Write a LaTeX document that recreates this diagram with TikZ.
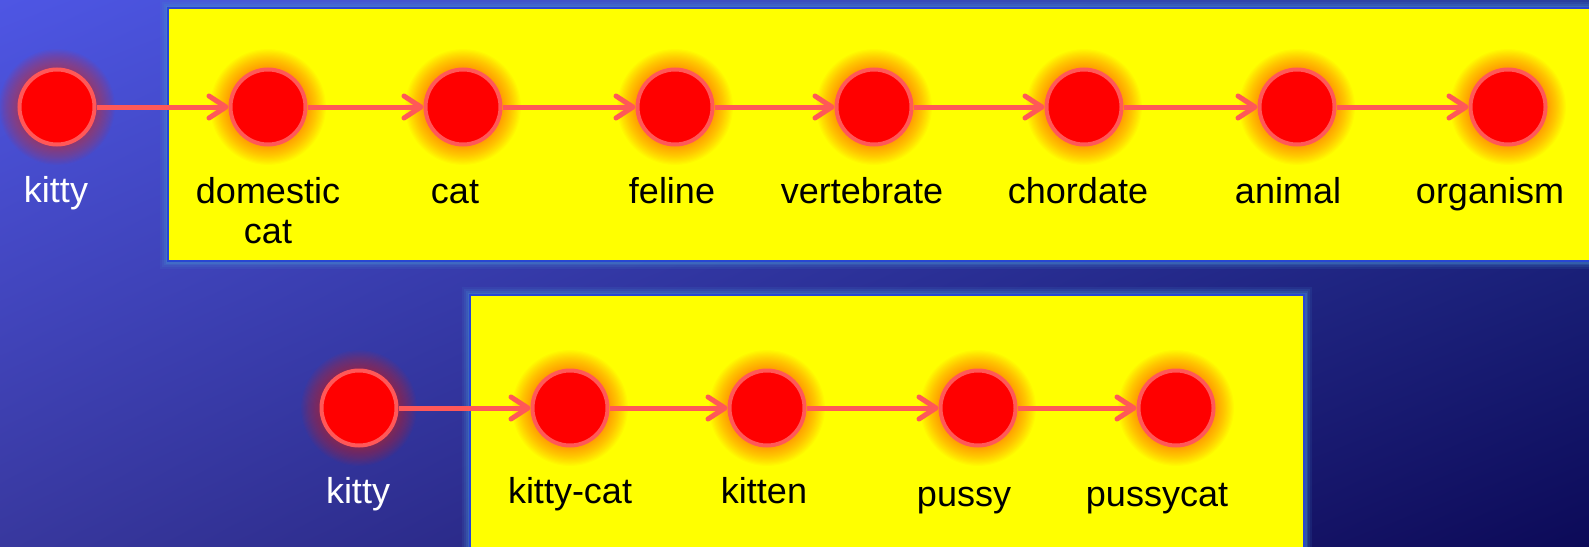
\documentclass[tikz,border=0pt]{standalone}
\usepackage{fontspec}
\setmainfont{Liberation Sans}
\usetikzlibrary{arrows.meta,shadings}
\definecolor{dotedge}{RGB}{255,88,88}
\definecolor{dotfill}{RGB}{255,0,0}
\definecolor{glowred}{RGB}{255,40,0}
\definecolor{boxfill}{RGB}{255,255,0}
\definecolor{boxline}{RGB}{40,70,210}
\definecolor{boxglow}{RGB}{70,140,210}
\definecolor{bgUL}{RGB}{78,86,228}
\definecolor{bgUR}{RGB}{38,52,150}
\definecolor{bgLL}{RGB}{56,56,158}
\definecolor{bgLR}{RGB}{12,10,88}
\tikzset{
  dot/.style={circle, fill=dotfill, draw=dotedge, line width=4pt, minimum size=75pt, inner sep=0pt},
  lab/.style={font=\fontsize{36}{40}\selectfont, inner sep=0pt, anchor=base, align=center},
  wlab/.style={lab, text=white},
  blab/.style={lab, text=black},
  link/.style={draw=dotedge, line width=5pt, -{Straight Barb[length=17pt,width=22pt,round]}},
  ybox/.style={fill=boxfill, draw=boxline, line width=2pt},
}
\begin{document}
\begin{tikzpicture}[x=1pt,y=-1pt]
\useasboundingbox (0,0) rectangle (1589,546);
\clip (0,0) rectangle (1589,546);
% background
\shade[upper left=bgUL, upper right=bgUR, lower left=bgLL, lower right=bgLR] (0,0) rectangle (1589,546);
% boxes with glow
\foreach \w/\o in {16/0.12, 12/0.15, 8/0.2, 5/0.3}{
  \draw[boxglow, line width=\w pt, opacity=\o] (168,8) rectangle (1620,261);
  \draw[boxglow, line width=\w pt, opacity=\o] (470,295) rectangle (1304,580);
}
\path[ybox] (168,8) rectangle (1620,261);
\path[ybox] (470,295) rectangle (1304,580);
% glows
\foreach \x/\y in {57/107, 268/107, 463/107, 675/107, 874/107, 1084/107, 1297/107, 1508/107,
                   359/408, 570/408, 767/408, 978/408, 1176/408}{
  \foreach \k in {1,...,16}{
    \fill[glowred, opacity=0.03] (\x,\y) circle[radius={39.5pt+1.15pt*\k}];
  }
}
% nodes
\node[dot] (k1)  at (57,107) {};
\node[dot] (dc)  at (268,107) {};
\node[dot] (cat) at (463,107) {};
\node[dot] (fel) at (675,107) {};
\node[dot] (ver) at (874,107) {};
\node[dot] (cho) at (1084,107) {};
\node[dot] (ani) at (1297,107) {};
\node[dot] (org) at (1508,107) {};
\node[dot] (k2)  at (359,408) {};
\node[dot] (kc)  at (570,408) {};
\node[dot] (kit) at (767,408) {};
\node[dot] (pus) at (978,408) {};
\node[dot] (pc)  at (1176,408) {};
% connectors
\draw[link] (k1) -- (dc);
\draw[link] (dc) -- (cat);
\draw[link] (cat) -- (fel);
\draw[link] (fel) -- (ver);
\draw[link] (ver) -- (cho);
\draw[link] (cho) -- (ani);
\draw[link] (ani) -- (org);
\draw[link] (k2) -- (kc);
\draw[link] (kc) -- (kit);
\draw[link] (kit) -- (pus);
\draw[link] (pus) -- (pc);
% labels
\node[wlab] (lk1) at (56,202) {kitty};
\node[blab] (ldc) at (268,243) {domestic\\cat};
\node[blab] (lcat) at (455,203) {cat};
\node[blab] (lfel) at (672,203) {feline};
\node[blab] (lver) at (862,203) {vertebrate};
\node[blab] (lcho) at (1078,203) {chordate};
\node[blab] (lani) at (1288,203) {animal};
\node[blab] (lorg) at (1490,203) {organism};
\node[wlab] (lk2) at (358,503) {kitty};
\node[blab] (lkc) at (570,503) {kitty-cat};
\node[blab] (lkit) at (764,503) {kitten};
\node[blab] (lpus) at (964,506) {pussy};
\node[blab] (lpc) at (1157,506) {pussycat};
\end{tikzpicture}
\end{document}
